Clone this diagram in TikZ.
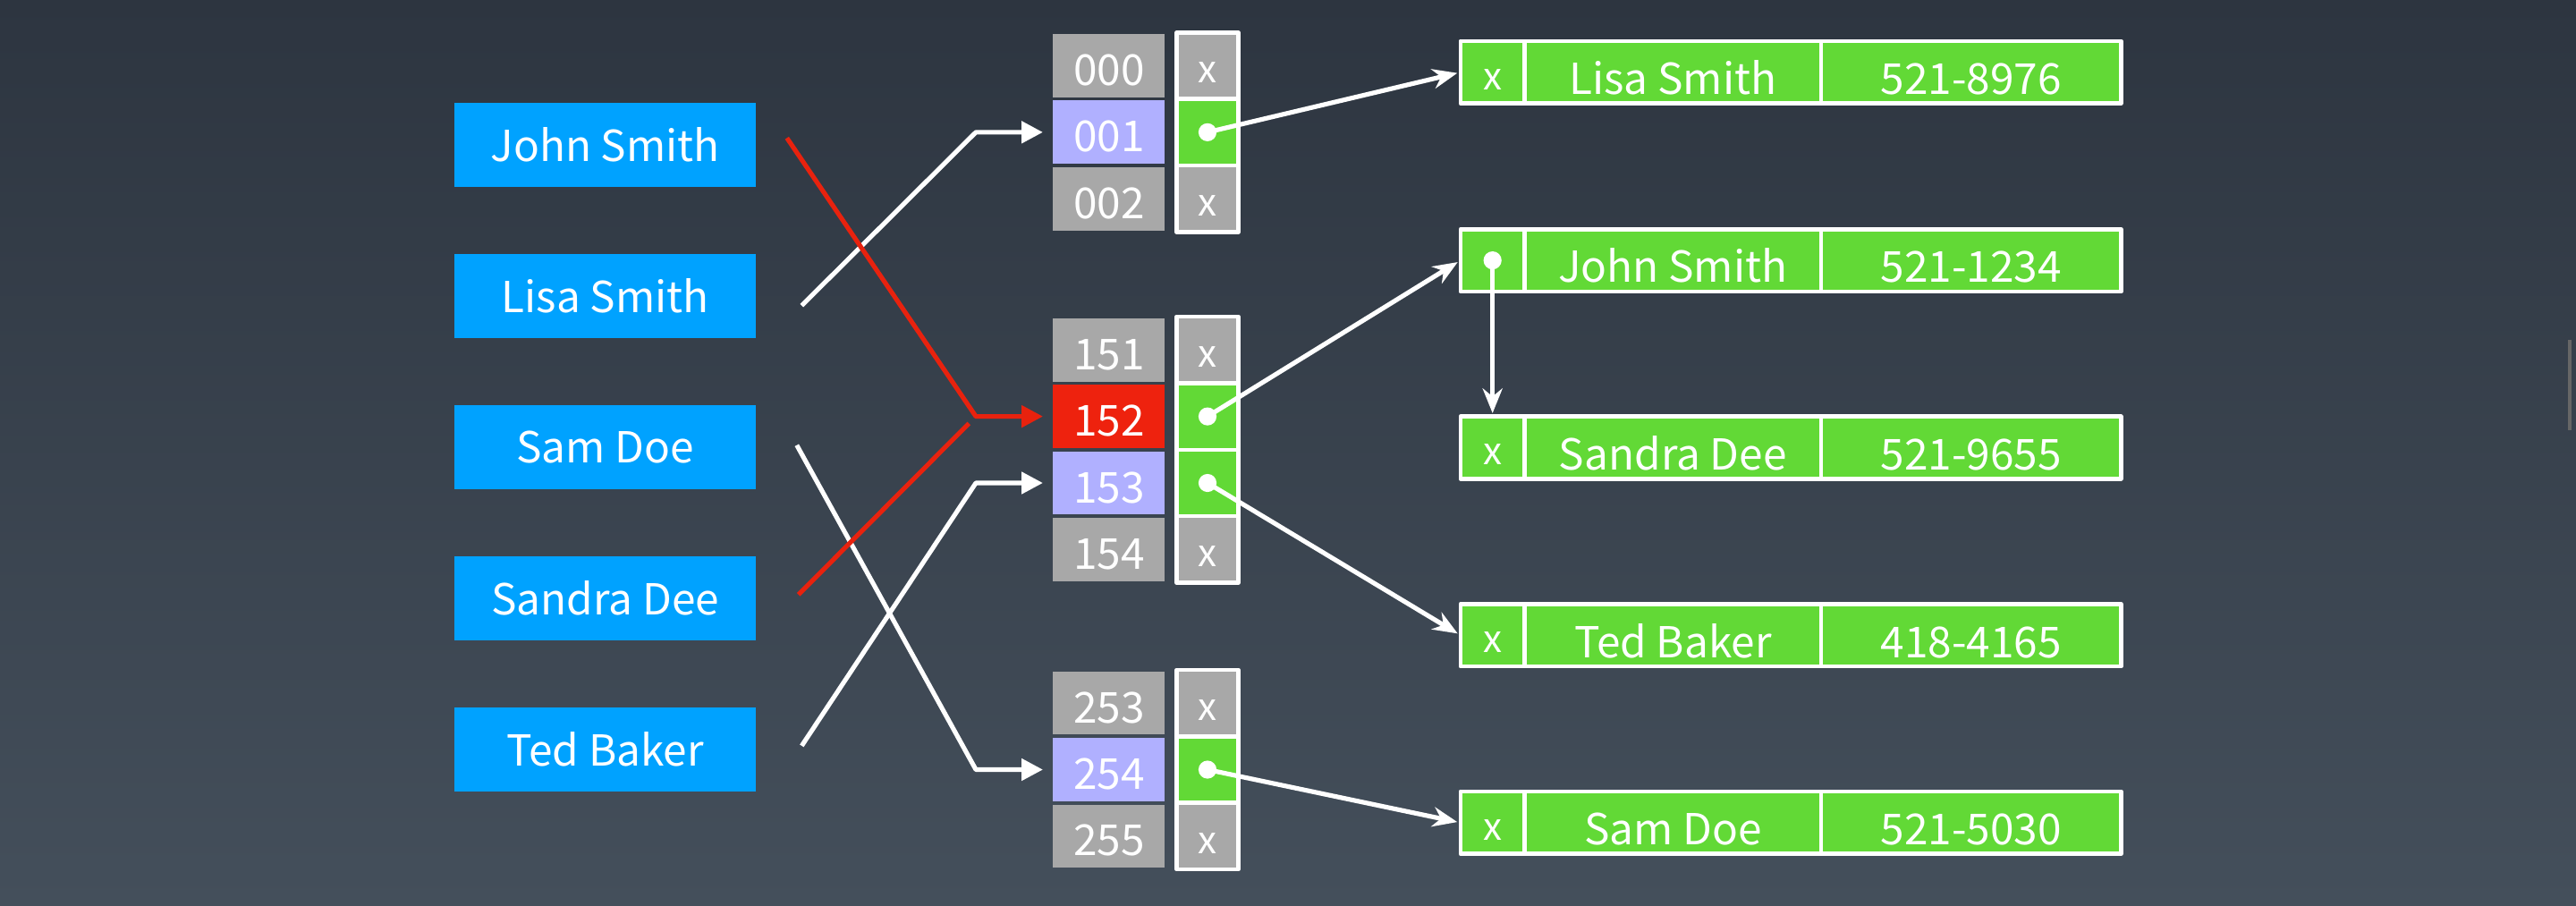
\documentclass[tikz,border=0pt]{standalone}
\usepackage{fontspec}
\setmainfont{Noto Sans CJK SC}
\usetikzlibrary{arrows.meta,positioning}
\definecolor{bgtop}{RGB}{45,53,64}
\definecolor{bgbot}{RGB}{68,79,91}
\definecolor{nameblue}{RGB}{0,162,255}
\definecolor{cellgray}{RGB}{168,168,168}
\definecolor{celllav}{RGB}{176,176,255}
\definecolor{cellred}{RGB}{238,34,14}
\definecolor{recgreen}{RGB}{98,217,54}
\definecolor{linkred}{RGB}{232,34,14}
\begin{document}
\begin{tikzpicture}[x=1pt, y=-1pt, line join=round,
  every node/.style={text=white, inner sep=0pt, font=\fontsize{26}{30}\selectfont},
  namebox/.style={fill=nameblue, minimum width=183.6pt, minimum height=51.4pt},
  keycell/.style={fill=cellgray, minimum width=68pt, minimum height=38.5pt, text height=24pt, text depth=0pt},
  ptrcell/.style={fill=cellgray, draw=white, line width=2.5pt, minimum width=37.5pt, minimum height=40.5pt},
  xmark/.style={font=\fontsize{23}{26}\selectfont, text height=21pt, text depth=0pt},
  rcell/.style={fill=recgreen, draw=white, line width=2.5pt, outer sep=0pt, minimum height=38pt, text height=27pt, text depth=0pt},
  link/.style={draw=white, line width=2.8pt, -{Triangle[length=13pt,width=13pt]}, shorten >=6pt},
  ptrlink/.style={draw=white, line width=2.8pt, -{Stealth[length=15pt,width=12pt]}, shorten >=2pt}]
%Nền
\useasboundingbox (0,0) rectangle (1568,551);
\shade[top color=bgtop, bottom color=bgbot] (0,0) rectangle (1568,551);
\fill[gray!80!black] (1563,207) rectangle (1565.5,262);
%Các khóa
\node[namebox] (john) at (368.4,88.3) {John Smith};
\node[namebox] (lisa) at (368.4,180.3) {Lisa Smith};
\node[namebox] (sam) at (368.4,272.3) {Sam Doe};
\node[namebox] (sandra) at (368.4,364.3) {Sandra Dee};
\node[namebox] (ted) at (368.4,456.3) {Ted Baker};
%Bảng băm
\node[keycell] (k000) at (675,40) {000};
\node[keycell, fill=celllav] (k001) at (675,80.5) {001};
\node[keycell] (k002) at (675,121) {002};
\node[keycell] (k151) at (675,213) {151};
\node[keycell, fill=cellred] (k152) at (675,253.5) {152};
\node[keycell, fill=celllav] (k153) at (675,294) {153};
\node[keycell] (k154) at (675,334.5) {154};
\node[keycell] (k253) at (675,428) {253};
\node[keycell, fill=celllav] (k254) at (675,468.5) {254};
\node[keycell] (k255) at (675,509) {255};
\node[ptrcell, xmark] (p000) at (735,40) {x};
\node[ptrcell, fill=recgreen] (p001) at (735,80.5) {};
\node[ptrcell, xmark] (p002) at (735,121) {x};
\node[ptrcell, xmark] (p151) at (735,213) {x};
\node[ptrcell, fill=recgreen] (p152) at (735,253.5) {};
\node[ptrcell, fill=recgreen] (p153) at (735,294) {};
\node[ptrcell, xmark] (p154) at (735,334.5) {x};
\node[ptrcell, xmark] (p253) at (735,428) {x};
\node[ptrcell, fill=recgreen] (p254) at (735,468.5) {};
\node[ptrcell, xmark] (p255) at (735,509) {x};
%Các bản ghi
\node[rcell, minimum width=39pt, xmark] (rlisa) at (908.5,44) {x};
\node[rcell, minimum width=180.5pt, right=0pt of rlisa] (nlisa) {Lisa Smith};
\node[rcell, minimum width=182.5pt, right=0pt of nlisa] {521-8976};
\node[rcell, minimum width=39pt] (rjohn) at (908.5,158.5) {};
\node[rcell, minimum width=180.5pt, right=0pt of rjohn] (njohn) {John Smith};
\node[rcell, minimum width=182.5pt, right=0pt of njohn] {521-1234};
\node[rcell, minimum width=39pt, xmark] (rsandra) at (908.5,272.5) {x};
\node[rcell, minimum width=180.5pt, right=0pt of rsandra] (nsandra) {Sandra Dee};
\node[rcell, minimum width=182.5pt, right=0pt of nsandra] {521-9655};
\node[rcell, minimum width=39pt, xmark] (rted) at (908.5,386.7) {x};
\node[rcell, minimum width=180.5pt, right=0pt of rted] (nted) {Ted Baker};
\node[rcell, minimum width=182.5pt, right=0pt of nted] {418-4165};
\node[rcell, minimum width=39pt, xmark] (rsam) at (908.5,500.8) {x};
\node[rcell, minimum width=180.5pt, right=0pt of rsam] (nsam) {Sam Doe};
\node[rcell, minimum width=182.5pt, right=0pt of nsam] {521-5030};
%Hàm băm
\coordinate (cx) at (594,0);
\coordinate (johnout) at (479,84);
\coordinate (lisaout) at (488,186);
\coordinate (samout) at (485,271);
\coordinate (sandraout) at (486,362);
\coordinate (tedout) at (488,454);
\draw[link] (lisaout)--(k001.west -| cx)--(k001.west);
\draw[link] (samout)--(k254.west -| cx)--(k254.west);
\draw[link] (tedout)--(k153.west -| cx)--(k153.west);
\draw[link, draw=linkred] (johnout)--(k152.west -| cx)--(k152.west);
\draw[link, draw=linkred, -] (sandraout)--(k152.west -| cx);
%Con trỏ
\draw[ptrlink] (p001.center)--(rlisa.west);
\draw[ptrlink] (p152.center)--(rjohn.west);
\draw[ptrlink] (p153.center)--(rted.west);
\draw[ptrlink] (p254.center)--(rsam.west);
\draw[ptrlink] (rjohn.center)--(rsandra.north);
\foreach \p in {p001,p152,p153,p254,rjohn}
  \fill[white] (\p.center) circle[radius=5.5pt];
\end{tikzpicture}
\end{document}
